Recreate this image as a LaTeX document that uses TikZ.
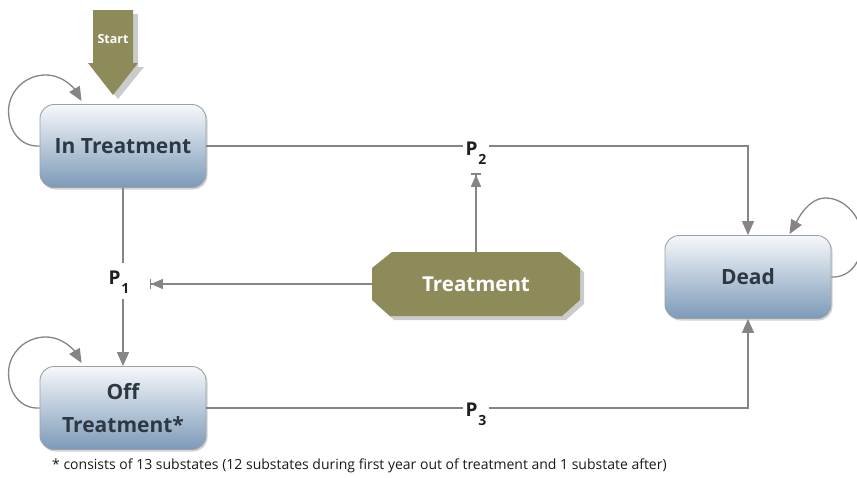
\documentclass[tikz,border=0pt]{standalone}
\usepackage{fontspec}
\setmainfont{Open Sans}
\usetikzlibrary{arrows.meta,shadows,calc}
\definecolor{boxtop}{HTML}{F6F8FB}
\definecolor{boxbot}{HTML}{7C9AB8}
\definecolor{boxedge}{HTML}{9AA1A8}
\definecolor{boxtext}{HTML}{2D3843}
\definecolor{oliveG}{HTML}{8E8B5A}
\definecolor{linec}{HTML}{858585}
\definecolor{ptext}{HTML}{1F1F1F}
\begin{document}
\begin{tikzpicture}[x=1pt,y=-1pt,
  state/.style={draw=boxedge, line width=0.9pt, rounded corners=14pt,
    top color=boxtop, bottom color=boxbot, minimum width=166pt, minimum height=83pt,
    align=center, font=\fontsize{21}{33}\selectfont\bfseries, text=boxtext,
    drop shadow={shadow xshift=1.5pt, shadow yshift=-2pt, opacity=0.35}},
  conn/.style={draw=linec, line width=1.3pt},
  tipa/.style={-{Triangle[length=14pt,width=12pt]}},
  bartip/.style={-{Triangle[length=12pt,width=10pt] Bar[width=10pt,line width=1.3pt]}},
  plabel/.style={font=\fontsize{19}{19}\selectfont\bfseries, text=ptext, inner sep=2pt},
]
\useasboundingbox (0,0) rectangle (857,477);

% Start block arrow
\fill[black!45, opacity=0.45] (98,14) -- (138,14) -- (138,67) -- (144,67) -- (118,99) -- (92,67) -- (98,67) -- cycle;
\fill[oliveG] (93,10) -- (133,10) -- (133,63) -- (138,63) -- (113,95) -- (88,63) -- (93,63) -- cycle;
\node[font=\fontsize{12.5}{12.5}\selectfont\bfseries, text=white] (start) at (113,39) {Start};

% States
\node[state] (it) at (123,146) {In Treatment};
\node[state] (ot) at (123,408) {Off\\Treatment*};
\node[state] (dead) at (748,277) {Dead};

% Treatment octagon
\fill[black!45, opacity=0.45] (376,272) -- (396,256) -- (564,256) -- (584,272) -- (584,304) -- (566,320) -- (394,320) -- (376,304) -- cycle;
\fill[oliveG] (372,268) -- (392,252) -- (560,252) -- (580,268) -- (580,300) -- (562,316) -- (390,316) -- (372,300) -- cycle;
\node[font=\fontsize{20.5}{20.5}\selectfont\bfseries, text=white, minimum width=208pt, minimum height=64pt] (tr) at (476,284) {Treatment};

% P labels
\node[plabel] (p2) at (476,153) {P\raisebox{-9pt}{\fontsize{14}{14}\selectfont\kern1pt 2}};
\node[plabel] (p1) at (119,282) {P\raisebox{-9pt}{\fontsize{14}{14}\selectfont\kern1pt 1}};
\node[plabel] (p3) at (476,414) {P\raisebox{-9pt}{\fontsize{14}{14}\selectfont\kern1pt 3}};

% Connectors
\draw[conn] (it.east) -- (p2.west |- it.east);
\draw[conn,tipa] (p2.east |- it.east) -| (dead.north);
\draw[conn] (it.south) -- ([yshift=6pt]it.south |- p1.north);
\draw[conn,tipa] ([yshift=-4pt]it.south |- p1.south) -- (ot.north);
\draw[conn] (ot.east) -- (p3.west |- ot.east);
\draw[conn,tipa] (p3.east |- ot.east) -| (dead.south);
\draw[conn,bartip] (tr.north) -- ([yshift=-7pt]p2.south);
\draw[conn,bartip] (tr.west) -- ([xshift=18pt,yshift=-2pt]p1.east);

% Self loops
\draw[conn,tipa] (it.west) .. controls +(-20,1) and +(0,19) .. ++(-31,-35)
  .. controls +(0,-20) and +(-20,0) .. ++(37,-36)
  .. controls +(18,0) and +(-7,-12) .. ++(36,26);
\draw[conn,tipa] (ot.west) .. controls +(-20,1) and +(0,19) .. ++(-31,-35)
  .. controls +(0,-20) and +(-20,0) .. ++(37,-36)
  .. controls +(18,0) and +(-7,-12) .. ++(36,26);
\draw[conn,tipa] (dead.east) .. controls +(20,1) and +(0,19) .. ++(31,-37)
  .. controls +(0,-22) and +(20,0) .. ++(-37,-42)
  .. controls +(-18,0) and +(7,-12) .. ++(-36,36);

% Footnote
\node[font=\fontsize{14}{14}\selectfont, text=black!90, anchor=west, inner sep=0pt] (fn) at (52,466) {* consists of 13 substates (12 substates during first year out of treatment and 1 substate after)};
\end{tikzpicture}
\end{document}
